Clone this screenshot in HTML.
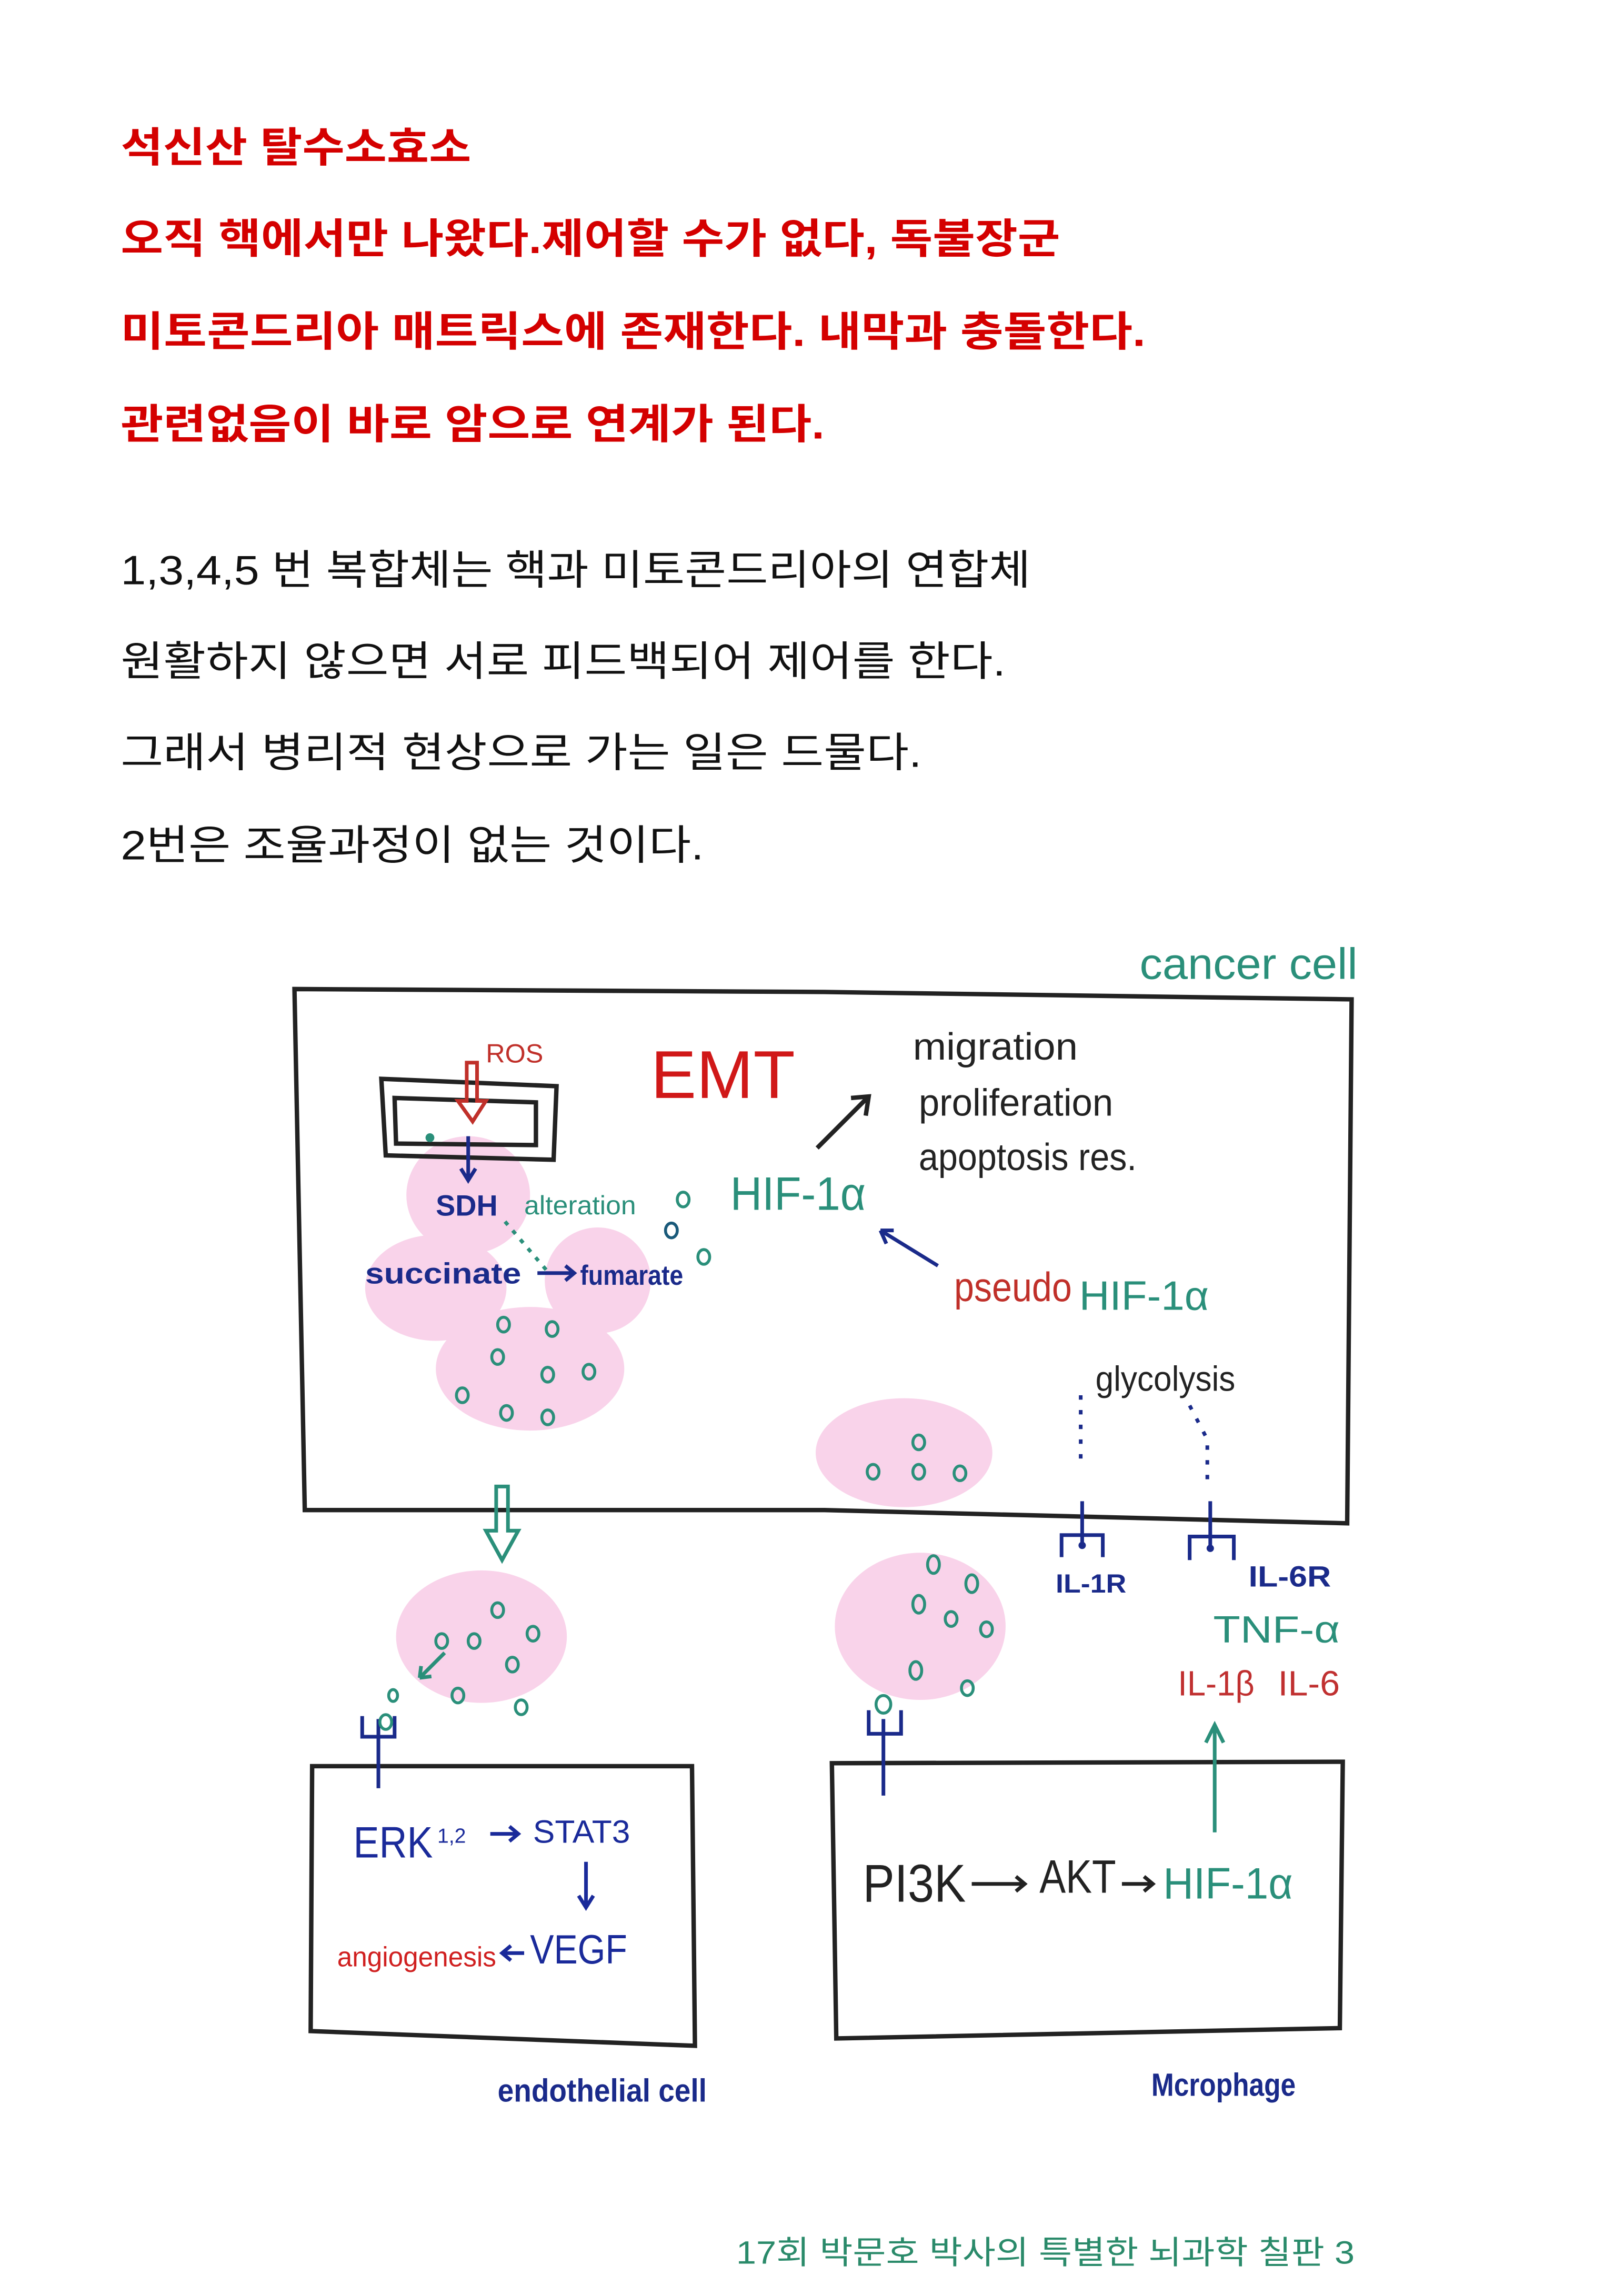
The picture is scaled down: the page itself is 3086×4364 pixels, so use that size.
<!DOCTYPE html>
<html><head><meta charset="utf-8"><style>
html,body{margin:0;padding:0;background:#fff}
svg{display:block}
.kr{font-family:"Liberation Sans","Noto Sans CJK KR",sans-serif}
</style></head><body>
<svg width="3086" height="4364" viewBox="0 0 1103 1560" preserveAspectRatio="none" xmlns="http://www.w3.org/2000/svg">
<g class="kr" font-size="28" lengthAdjust="spacingAndGlyphs">
<g fill="#d40000" font-weight="bold">
<text x="82" y="110" textLength="238" lengthAdjust="spacingAndGlyphs">석신산 탈수소효소</text>
<text x="82" y="172" textLength="638" lengthAdjust="spacingAndGlyphs">오직 핵에서만 나왔다.제어할 수가 없다, 독불장군</text>
<text x="82" y="235" textLength="696" lengthAdjust="spacingAndGlyphs">미토콘드리아  매트릭스에 존재한다. 내막과 충돌한다.</text>
<text x="82" y="298" textLength="478" lengthAdjust="spacingAndGlyphs">관련없음이 바로 암으로 연계가 된다.</text>
</g>
<g fill="#111">
<text x="82" y="397" textLength="618" lengthAdjust="spacingAndGlyphs">1,3,4,5 번 복합체는 핵과 미토콘드리아의 연합체</text>
<text x="82" y="459" textLength="601" lengthAdjust="spacingAndGlyphs">원활하지 않으면 서로 피드백되어 제어를 한다.</text>
<text x="82" y="521" textLength="544" lengthAdjust="spacingAndGlyphs">그래서 병리적 현상으로 가는 일은 드물다.</text>
<text x="82" y="584" textLength="396" lengthAdjust="spacingAndGlyphs">2번은 조율과정이 없는 것이다.</text>
</g>
<text x="500" y="1538" font-size="22" fill="#2a8a6a" textLength="420" lengthAdjust="spacingAndGlyphs">17회 박문호 박사의 특별한 뇌과학 칠판 3</text>
</g>

<g fill="#f9d3ea">
<ellipse cx="318" cy="812" rx="42" ry="40"/>
<ellipse cx="296" cy="875" rx="48" ry="36"/>
<ellipse cx="406" cy="870" rx="36" ry="36"/>
<ellipse cx="360" cy="930" rx="64" ry="42"/>
<ellipse cx="614" cy="987" rx="60" ry="37"/>
<ellipse cx="327" cy="1112" rx="58" ry="45"/>
<ellipse cx="625" cy="1105" rx="58" ry="50"/>
</g>

<g fill="none" stroke="#222" stroke-width="3">
<path d="M200 672 L560 674 L918 679 L915 1035 L560 1026 L207 1026 Z"/>
<path d="M259 733 L378 738 L376 788 L262 785 Z"/>
<path d="M268 746 L364 749 L364 778 L269 777 Z"/>
<path d="M212 1200 L470 1200 L472 1390 L211 1380 Z"/>
<path d="M565 1198 L912 1197 L910 1378 L568 1385 Z"/>
<path d="M555 780 L590 745 M578 746 L590 745 L588 758"/>
</g>

<g font-family="Liberation Sans Narrow, Liberation Sans, sans-serif" lengthAdjust="spacingAndGlyphs">
<text x="774" y="665" font-size="30" fill="#2a8f7a" textLength="148" lengthAdjust="spacingAndGlyphs">cancer cell</text>
<text x="330" y="722" font-size="18" fill="#c0302a">ROS</text>
<text x="442" y="746" font-size="46" fill="#d01818" textLength="98" lengthAdjust="spacingAndGlyphs">EMT</text>
<text x="620" y="720" font-size="26" fill="#222" textLength="112" lengthAdjust="spacingAndGlyphs">migration</text>
<text x="624" y="758" font-size="26" fill="#222" textLength="132" lengthAdjust="spacingAndGlyphs">proliferation</text>
<text x="624" y="795" font-size="26" fill="#222" textLength="148" lengthAdjust="spacingAndGlyphs">apoptosis res.</text>
<text x="296" y="826" font-size="20" fill="#1a2a8a" font-weight="bold" textLength="42" lengthAdjust="spacingAndGlyphs">SDH</text>
<text x="356" y="825" font-size="18" fill="#2a8f7a" textLength="76" lengthAdjust="spacingAndGlyphs">alteration</text>
<text x="496" y="822" font-size="32" fill="#2a8f7a" textLength="92" lengthAdjust="spacingAndGlyphs">HIF-1α</text>
<text x="248" y="872" font-size="20" fill="#1a2a8a" font-weight="bold" textLength="106" lengthAdjust="spacingAndGlyphs">succinate</text>
<text x="394" y="873" font-size="19" fill="#1a2a8a" font-weight="bold" textLength="70" lengthAdjust="spacingAndGlyphs">fumarate</text>
<text x="648" y="884" font-size="28" fill="#c0302a" textLength="80" lengthAdjust="spacingAndGlyphs">pseudo</text>
<text x="733" y="890" font-size="28" fill="#2a8f7a" textLength="88" lengthAdjust="spacingAndGlyphs">HIF-1α</text>
<text x="744" y="945" font-size="24" fill="#222" textLength="95" lengthAdjust="spacingAndGlyphs">glycolysis</text>
<text x="717" y="1082" font-size="18" fill="#1a2a8a" font-weight="bold" textLength="48" lengthAdjust="spacingAndGlyphs">IL-1R</text>
<text x="848" y="1078" font-size="20" fill="#1a2a8a" font-weight="bold" textLength="56" lengthAdjust="spacingAndGlyphs">IL-6R</text>
<text x="824" y="1116" font-size="26" fill="#2a8f7a" textLength="86" lengthAdjust="spacingAndGlyphs">TNF-α</text>
<text x="800" y="1152" font-size="24" fill="#c03030" textLength="52" lengthAdjust="spacingAndGlyphs">IL-1β</text>
<text x="868" y="1152" font-size="24" fill="#c03030" textLength="42" lengthAdjust="spacingAndGlyphs">IL-6</text>
<text x="240" y="1262" font-size="30" fill="#1a2a9a" textLength="54" lengthAdjust="spacingAndGlyphs">ERK</text>
<text x="297" y="1252" font-size="14" fill="#1a2a9a">1,2</text>
<text x="362" y="1252" font-size="22" fill="#1a2a9a" textLength="66" lengthAdjust="spacingAndGlyphs">STAT3</text>
<text x="229" y="1336" font-size="19" fill="#d02020" textLength="108" lengthAdjust="spacingAndGlyphs">angiogenesis</text>
<text x="360" y="1334" font-size="28" fill="#1a2a9a" textLength="66" lengthAdjust="spacingAndGlyphs">VEGF</text>
<text x="586" y="1292" font-size="36" fill="#222" textLength="70" lengthAdjust="spacingAndGlyphs">PI3K</text>
<text x="706" y="1286" font-size="32" fill="#222" textLength="52" lengthAdjust="spacingAndGlyphs">AKT</text>
<text x="790" y="1290" font-size="30" fill="#2a8f7a" textLength="88" lengthAdjust="spacingAndGlyphs">HIF-1α</text>
<text x="338" y="1428" font-size="22" fill="#1a2a8a" font-weight="bold" textLength="142" lengthAdjust="spacingAndGlyphs">endothelial cell</text>
<text x="782" y="1424" font-size="22" fill="#1a2a8a" font-weight="bold" textLength="98" lengthAdjust="spacingAndGlyphs">Mcrophage</text>
</g>

<g fill="none" stroke-width="2.5">
<path d="M317 722 L317 748 L311 748 L321 762 L330 748 L324 748 L324 722 Z" stroke="#c0302a"/>
<path d="M318 772 L318 800 M313 794 L318 802 L323 794" stroke="#1a2a8a"/>
<path d="M343 830 L372 864" stroke="#2a8f7a" stroke-dasharray="3 5"/>
<path d="M365 865 L390 865 M384 860 L390 865 L384 870" stroke="#1a2a8a"/>
<path d="M637 860 L598 836 M598 836 L607 836 M598 836 L602 845" stroke="#1a2a8a"/>
<path d="M734 948 L734 995 M808 955 L820 978 L820 1012" stroke="#1a2a8a" stroke-dasharray="3 7"/>
<path d="M735 1020 L735 1052 M721 1058 L721 1043 L749 1043 L749 1058 M822 1020 L822 1052 M808 1060 L808 1044 L838 1044 L838 1060" stroke="#1a2a8a"/>
<path d="M257 1215 L257 1168 M246 1166 L246 1180 L268 1180 L268 1166 M600 1220 L600 1168 M590 1162 L590 1178 L612 1178 L612 1162" stroke="#1a2a8a"/>
<path d="M337 1010 L337 1040 L330 1040 L341 1060 L352 1040 L345 1040 L345 1010 Z" stroke="#2a8f7a"/>
<path d="M302 1123 L285 1140 M285 1140 L286 1132 M285 1140 L293 1139" stroke="#2a8f7a"/>
<path d="M825 1245 L825 1172 M819 1184 L825 1172 L831 1184" stroke="#2a8f7a"/>
<path d="M333 1246 L352 1246 M346 1241 L352 1246 L346 1251 M398 1265 L398 1295 M393 1288 L398 1296 L403 1288 M356 1327 L341 1327 M347 1322 L341 1327 L347 1332" stroke="#1a2a9a"/>
<path d="M660 1280 L696 1280 M690 1275 L696 1280 L690 1285 M762 1280 L782 1280 M777 1275 L783 1280 L777 1285" stroke="#222"/>
</g>
<g fill="#1a2a8a"><circle cx="735" cy="1050" r="2.5"/><circle cx="822" cy="1052" r="2.5"/><circle cx="292" cy="773" r="3" fill="#2a8f7a"/></g>

<g fill="none" stroke="#2a8f7a" stroke-width="2">
<ellipse cx="464" cy="815" rx="4" ry="5"/><ellipse cx="456" cy="836" rx="4" ry="5" stroke="#1a5a7a"/><ellipse cx="478" cy="854" rx="4" ry="5"/>
<ellipse cx="342" cy="900" rx="4" ry="5"/><ellipse cx="375" cy="903" rx="4" ry="5"/><ellipse cx="338" cy="922" rx="4" ry="5"/><ellipse cx="372" cy="934" rx="4" ry="5"/><ellipse cx="400" cy="932" rx="4" ry="5"/><ellipse cx="314" cy="948" rx="4" ry="5"/><ellipse cx="344" cy="960" rx="4" ry="5"/><ellipse cx="372" cy="963" rx="4" ry="5"/>
<ellipse cx="624" cy="980" rx="4" ry="5"/><ellipse cx="593" cy="1000" rx="4" ry="5"/><ellipse cx="624" cy="1000" rx="4" ry="5"/><ellipse cx="652" cy="1001" rx="4" ry="5"/>
<ellipse cx="338" cy="1094" rx="4" ry="5"/><ellipse cx="300" cy="1115" rx="4" ry="5"/><ellipse cx="322" cy="1115" rx="4" ry="5"/><ellipse cx="362" cy="1110" rx="4" ry="5"/><ellipse cx="348" cy="1131" rx="4" ry="5"/><ellipse cx="311" cy="1152" rx="4" ry="5"/><ellipse cx="354" cy="1160" rx="4" ry="5"/><ellipse cx="267" cy="1152" rx="3" ry="4"/><ellipse cx="262" cy="1170" rx="4" ry="5"/>
<ellipse cx="634" cy="1063" rx="4" ry="6"/><ellipse cx="660" cy="1076" rx="4" ry="6"/><ellipse cx="624" cy="1090" rx="4" ry="6"/><ellipse cx="646" cy="1100" rx="4" ry="5"/><ellipse cx="670" cy="1107" rx="4" ry="5"/><ellipse cx="622" cy="1135" rx="4" ry="6"/><ellipse cx="657" cy="1147" rx="4" ry="5"/><ellipse cx="600" cy="1158" rx="5" ry="6"/>
</g>
</svg>
</body></html>
